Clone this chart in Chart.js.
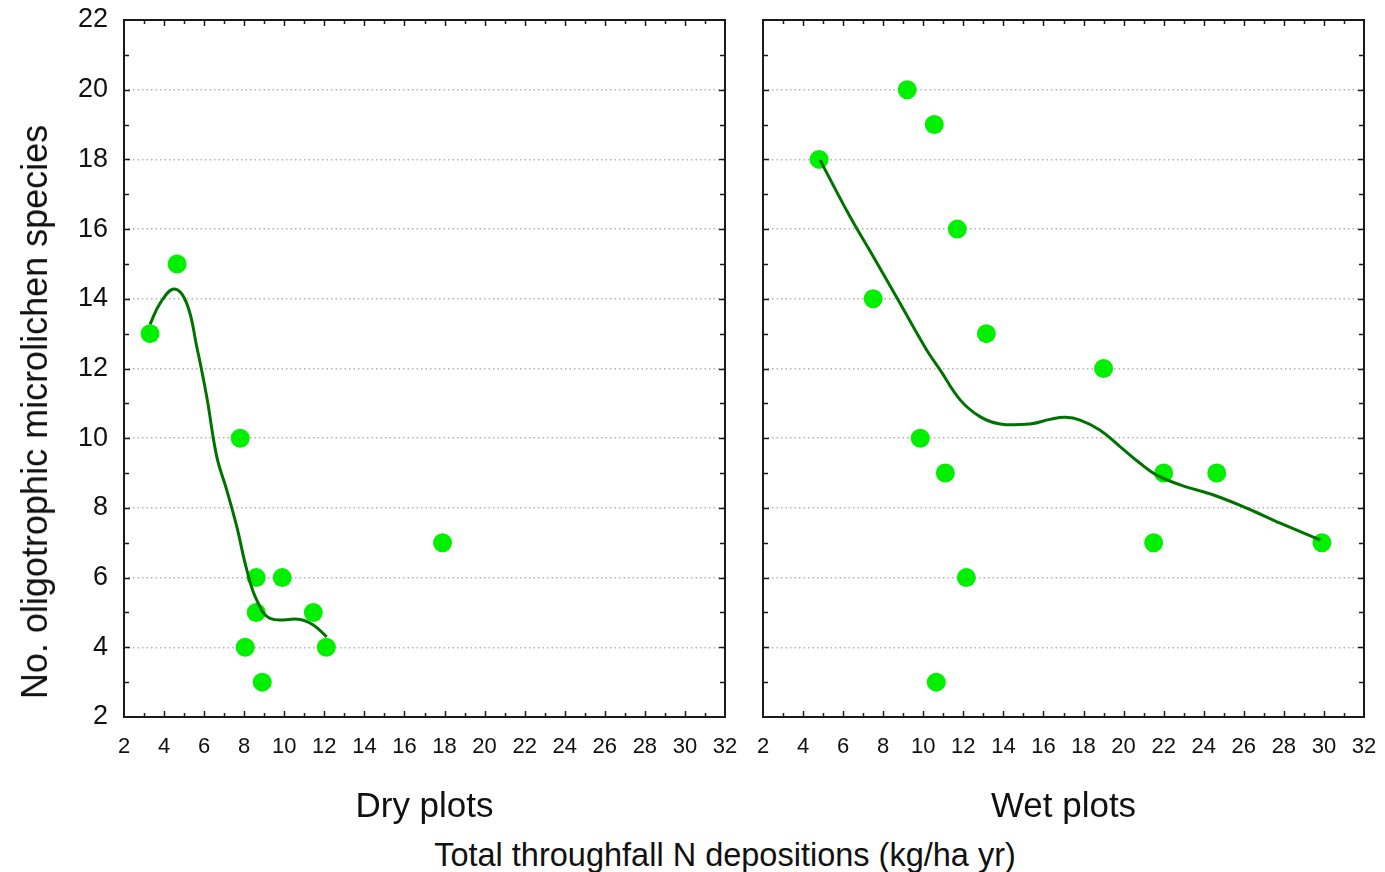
<!DOCTYPE html>
<html>
<head>
<meta charset="utf-8">
<script src="https://cdn.jsdelivr.net/npm/chart.js@4"></script>
<style>
    html, body { margin: 0; padding: 0; background: #fff; }
    body { width: 1385px; height: 872px; position: relative; overflow: hidden; font-family: "Liberation Sans", Arial, sans-serif; }
    #dryWrap { position: absolute; left: 0; top: 0; width: 745px; height: 832px; }
    #wetWrap { position: absolute; left: 745px; top: 0; width: 640px; height: 832px; }
    .ytitle {
        position: absolute; left: 35px; top: 412px; white-space: nowrap;
        font-size: 36px; color: #111;
        transform: translate(-50%, -50%) rotate(-90deg);
    }
    .xtitle {
        position: absolute; left: 725px; top: 855px; white-space: nowrap;
        font-size: 32.5px; color: #111;
        transform: translate(-50%, -50%);
    }
</style>
</head>
<body>
<div id="dryWrap"><canvas id="dryChart"></canvas></div>
<div id="wetWrap"><canvas id="wetChart"></canvas></div>
<div class="ytitle">No. oligotrophic microlichen species</div>
<div class="xtitle">Total throughfall N depositions (kg/ha yr)</div>
<script>
// axis ranges
const yMin = 2, yMax = 22;
const xMin = 2, xMax = 32;

// dry plots: observed points
const dryX = [3.3, 4.65, 7.8, 8.05, 8.6, 8.6, 8.9, 9.9, 11.45, 12.1, 17.9];
const dryY = [13, 15, 10, 4, 6, 5, 3, 6, 5, 4, 7];
// dry plots: smoothed fit line
const dryFitX = [3.3, 3.8, 4.5, 5.13, 5.63, 6.13, 6.63, 7.13, 7.63, 8.13, 8.62, 9.29, 10.79, 11.45, 12.12];
const dryFitY = [13.27, 13.87, 14.28, 13.87, 12.63, 11.19, 9.47, 8.51, 7.46, 6.22, 5.36, 4.83, 4.8, 4.64, 4.3];

// wet plots: observed points
const wetX = [4.8, 7.5, 9.2, 9.85, 10.55, 10.65, 11.1, 11.7, 12.15, 13.15, 19.0, 21.5, 22.0, 24.65, 29.9];
const wetY = [18, 14, 20, 10, 19, 3, 9, 16, 6, 13, 12, 7, 9, 9, 7];
// wet plots: smoothed fit line
const wetFitX = [4.85, 6.34, 7.51, 8.84, 10.17, 10.84, 11.84, 12.83, 13.83, 15.33, 16.33, 17.08, 17.83, 18.83, 19.82, 20.82, 21.65, 22.83, 24.49, 26.16, 27.82, 29.82];
const wetFitY = [17.98, 16.36, 15.21, 13.87, 12.53, 11.96, 11.1, 10.62, 10.41, 10.41, 10.54, 10.6, 10.52, 10.23, 9.76, 9.28, 8.94, 8.66, 8.37, 7.99, 7.56, 7.08];

const FONT = '"Liberation Sans", Arial, sans-serif';
const toPoints = (xs, ys) => xs.map((x, i) => ({ x, y: ys[i] }));

// frame around the plot area, with inward major/minor tick marks on all four sides
const frameTicks = {
    id: 'frameTicks',
    afterDraw(chart) {
        const { ctx, chartArea: a, scales: { x, y } } = chart;
        ctx.save();
        ctx.strokeStyle = '#1a1a1a';
        ctx.lineWidth = 1.5;
        for (let v = yMin + 1; v < yMax; v++) {
            const p = Math.round(y.getPixelForValue(v)) + 0.5;
            const len = v % 2 === 0 ? 6 : 5;
            ctx.beginPath();
            ctx.moveTo(a.left, p); ctx.lineTo(a.left + len, p);
            ctx.moveTo(a.right, p); ctx.lineTo(a.right - len, p);
            ctx.stroke();
        }
        for (let v = xMin + 1; v < xMax; v++) {
            const p = Math.round(x.getPixelForValue(v)) + 0.5;
            const len = v % 2 === 0 ? 6 : 4;
            ctx.beginPath();
            ctx.moveTo(p, a.bottom); ctx.lineTo(p, a.bottom - len);
            ctx.moveTo(p, a.top); ctx.lineTo(p, a.top + len);
            ctx.stroke();
        }
        ctx.lineWidth = 2;
        ctx.strokeRect(a.left, a.top, a.right - a.left, a.bottom - a.top);
        ctx.restore();
    }
};

function makeChart(id, pts, fit, label, yWidth, padRight, showYLabels) {
    return new Chart(document.getElementById(id), {
        data: {
            datasets: [
                {
                    type: 'line',
                    data: fit,
                    borderColor: '#007200',
                    borderWidth: 3,
                    pointRadius: 0,
                    tension: 0.4,
                    fill: false,
                    order: 0
                },
                {
                    type: 'scatter',
                    data: pts,
                    backgroundColor: '#00f000',
                    borderColor: '#00f000',
                    borderWidth: 0,
                    pointRadius: 9.5,
                    order: 1
                }
            ]
        },
        options: {
            responsive: true,
            maintainAspectRatio: false,
            animation: false,
            layout: { padding: { top: 20, right: padRight, left: 0, bottom: 0 } },
            plugins: { legend: { display: false }, tooltip: { enabled: false } },
            scales: {
                x: {
                    type: 'linear',
                    min: xMin, max: xMax,
                    ticks: { stepSize: 2, color: '#111', padding: 17, font: { family: FONT, size: 22 }, autoSkip: false, maxRotation: 0 },
                    grid: { display: false, drawTicks: false },
                    border: { display: false },
                    title: { display: true, text: label, color: '#111', font: { family: FONT, size: 35 }, padding: { top: 4, bottom: 4 } },
                    afterFit: (s) => { s.height = 115; s.paddingLeft = 0; s.paddingRight = 0; }
                },
                y: {
                    type: 'linear',
                    min: yMin, max: yMax,
                    ticks: { stepSize: 2, display: showYLabels, color: '#111', padding: 16, font: { family: FONT, size: 27 } },
                    grid: {
                        drawTicks: false,
                        lineWidth: 1.5,
                        color: (c) => (c.tick && (c.tick.value === yMin || c.tick.value === yMax)) ? 'rgba(0,0,0,0)' : '#b4b4b4'
                    },
                    border: { display: false, dash: [1.5, 3] },
                    afterFit: (s) => { s.width = yWidth; s.paddingTop = 0; s.paddingBottom = 0; }
                }
            }
        },
        plugins: [frameTicks]
    });
}

makeChart('dryChart', toPoints(dryX, dryY), toPoints(dryFitX, dryFitY), 'Dry plots', 124, 20, true);
makeChart('wetChart', toPoints(wetX, wetY), toPoints(wetFitX, wetFitY), 'Wet plots', 18, 21, false);
</script>
</body>
</html>
